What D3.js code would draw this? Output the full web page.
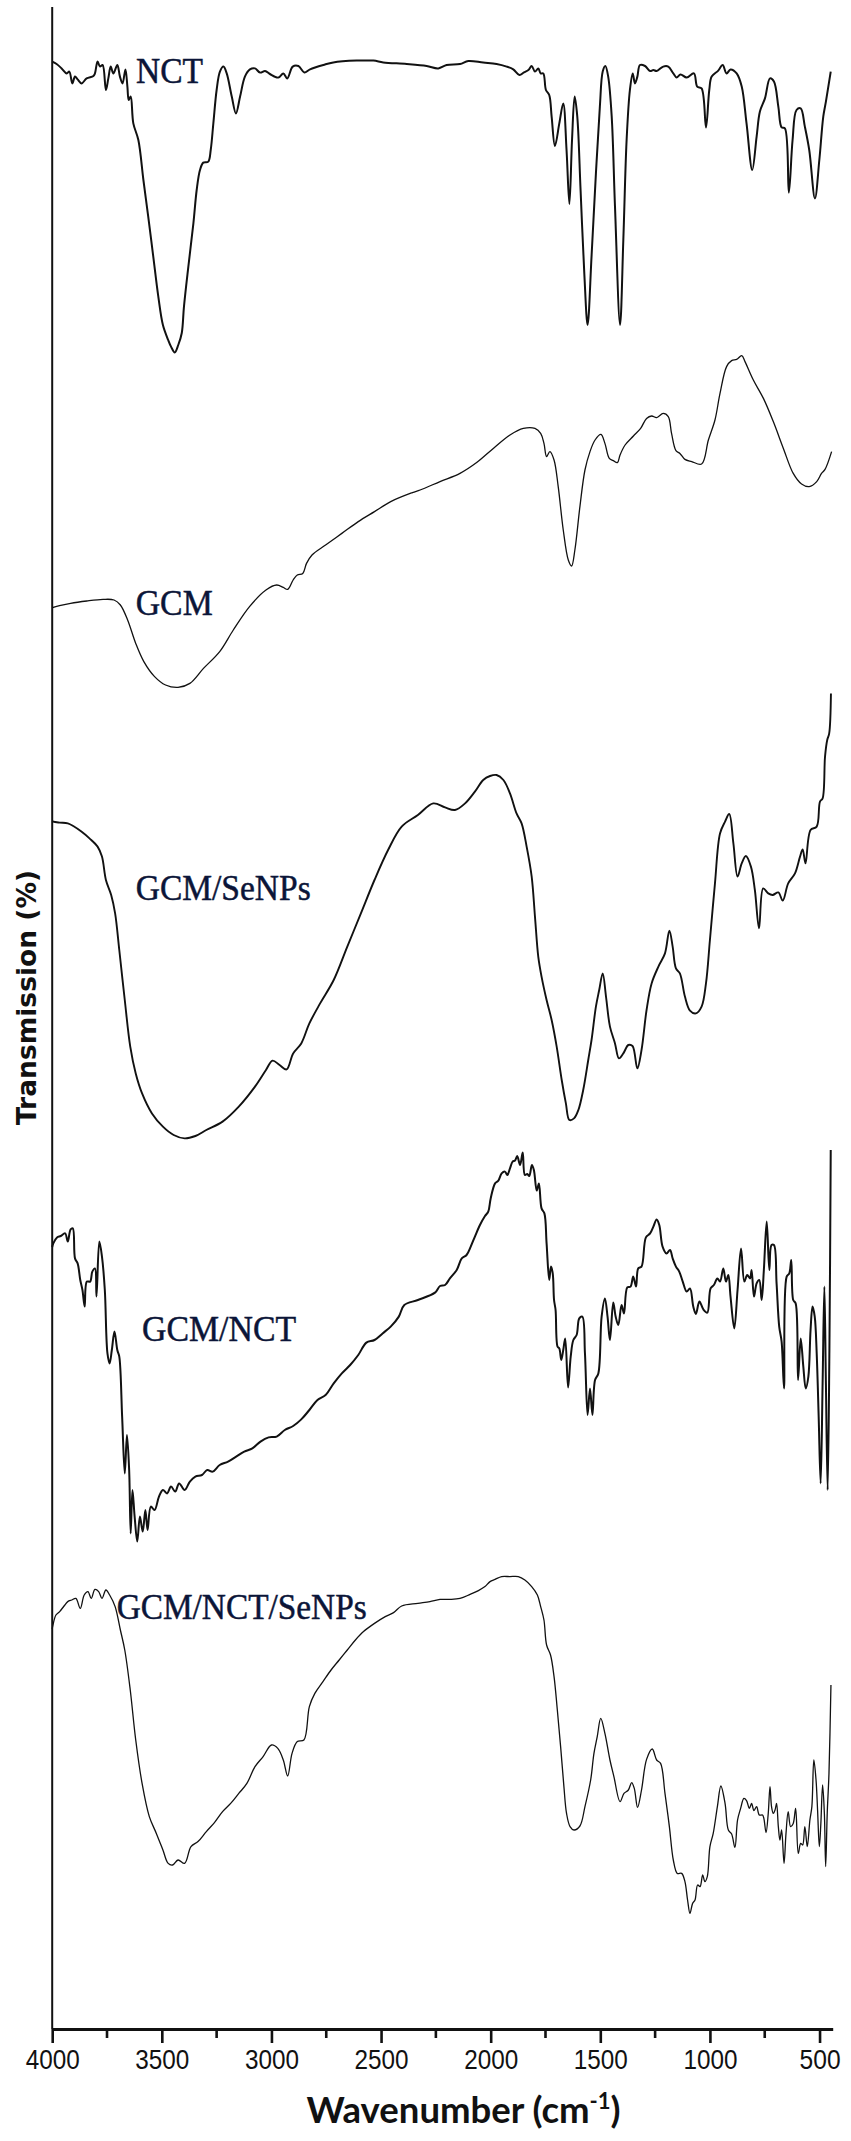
<!DOCTYPE html>
<html><head><meta charset="utf-8">
<script src="https://cdn.jsdelivr.net/npm/d3@7"></script>
<style>body{margin:0;background:#fff}svg{display:block}</style>
</head><body>
<svg id="chart" width="851" height="2141"></svg>
<script>
// ---------- data ----------
const tickLabels = [4000, 3500, 3000, 2500, 2000, 1500, 1000, 500];
const minorTicks = [3750, 3250, 2750, 2250, 1750, 1250, 750];
const seriesNames = ["NCT", "GCM", "GCM/SeNPs", "GCM/NCT", "GCM/NCT/SeNPs"];
// label anchors in data units [wavenumber, offset transmission]
const labelAnchors = [[3618, 973], [3619, 707], [3619, 564.5], [3590, 344], [3706, 205]];

// [wavenumber (cm-1), stacked transmission (a.u.)]
const NCT = [[4000,983.7],[3980,982.5],[3957,980.3],[3934,977.8],[3922,978.7],[3908,972.8],[3896,976.2],[3884,974.8],[3866,972.8],[3843,975.3],[3812,976.5],[3805,977.8],[3793,983.7],[3782,981.2],[3770,982],[3755,969.5],[3744,975.3],[3733,981.2],[3721,977.8],[3703,982],[3691,976.2],[3679,972.8],[3666,979.8],[3657,971.2],[3651,964.5],[3642,966.2],[3630,952.8],[3607,944.5],[3584,924.5],[3562,906.2],[3539,886.2],[3516,866.2],[3495,852],[3471,844.5],[3458,841.2],[3441,838.3],[3425,842],[3409,848],[3399,861.2],[3379,881.2],[3356,902.8],[3341,919.5],[3326,929.5],[3311,933.2],[3288,933.7],[3277,939.5],[3265,952.8],[3250,969.5],[3235,978.7],[3219,981.2],[3204,977.8],[3181,966.2],[3162,957.8],[3143,966.2],[3121,976.2],[3098,979.8],[3075,980.3],[3052,978.2],[3029,979],[3007,977.5],[2969,975.7],[2946,977.8],[2928,975.3],[2903,981.2],[2877,981.5],[2850,978.3],[2824,979.8],[2763,982],[2718,983.3],[2611,984.2],[2535,984.2],[2490,983.3],[2383,982.5],[2292,981.5],[2239,980.3],[2201,982],[2140,982.5],[2102,984],[2034,983.2],[1973,982.5],[1927,981.2],[1897,979.8],[1869,977],[1848,978.3],[1828,979.5],[1813,981.5],[1798,978.7],[1783,980.3],[1772,977.8],[1760,977.8],[1748,969.5],[1733,967],[1722,956.2],[1707,941.5],[1687,952.8],[1669,962.8],[1654,939.5],[1641,912.5],[1629,944.5],[1617,966.2],[1605,956.2],[1590,919.5],[1573,877.8],[1558,852],[1540,886.2],[1520,927.8],[1502,961.2],[1489,978.7],[1477,981.5],[1464,976.2],[1448,956.2],[1433,911.2],[1410,852],[1395,894.5],[1380,944.5],[1365,969.5],[1352,977.8],[1342,972.8],[1331,976.2],[1319,982],[1296,981.5],[1273,979],[1258,979.5],[1243,979],[1213,981.2],[1190,981.2],[1167,977.8],[1152,975.8],[1134,977.3],[1106,975.7],[1073,977.8],[1058,971.2],[1038,970.3],[1018,950.8],[1003,969.5],[992,976.2],[962,979.2],[942,982],[924,977.8],[906,979.8],[878,977.8],[855,971.2],[833,952.8],[807,929.5],[787,946.2],[772,958.7],[749,965.3],[726,975.3],[708,973.7],[688,961.2],[673,950.8],[658,950.3],[640,918.2],[623,944.5],[605,959.5],[586,960.3],[567,951.2],[547,939.5],[521,915.3],[501,934.5],[483,956.2],[471,963.7],[449,978.7]];

const GCM = [[4000,710.5],[3995,710.8],[3916,712.8],[3842,714],[3768,714.8],[3718,714.5],[3689,712],[3656,704.5],[3619,692.8],[3582,683.7],[3533,676.2],[3483,672],[3426,670.8],[3372,672.8],[3310,680.3],[3236,688.7],[3174,699.5],[3100,711.2],[3025,719.5],[2976,722],[2946,720.8],[2926,719.8],[2901,724.5],[2882,727],[2857,727.8],[2840,732.8],[2815,737],[2753,742],[2679,747.8],[2604,753.7],[2530,758.7],[2456,763.7],[2357,768.2],[2322,769.5],[2231,773.7],[2140,777.8],[2064,783.2],[1988,790.3],[1912,797],[1851,800.3],[1798,800.3],[1772,797.8],[1757,792.8],[1745,786.2],[1730,788.7],[1711,784.5],[1692,771.2],[1669,749.5],[1646,734.5],[1631,731.5],[1616,739.5],[1593,761.2],[1570,779.5],[1547,788.7],[1524,794.5],[1497,797.3],[1479,792.8],[1459,785.3],[1441,784.2],[1422,783.2],[1410,787],[1387,792],[1349,796.5],[1316,800.3],[1289,805.3],[1266,806.5],[1243,805.7],[1213,807.8],[1190,806.2],[1175,797.8],[1155,789.2],[1137,787.8],[1114,784.8],[1083,783.7],[1038,782.5],[1007,794.5],[977,804.5],[954,817.8],[924,831.2],[901,834.2],[878,834.8],[855,836.7],[840,833.7],[802,824.5],[756,815.3],[711,803.7],[665,790.3],[620,777.8],[582,772.5],[547,771.2],[513,773.7],[491,777.8],[475,779.8],[445,788.7]];

const GCM_SeNPs = [[4000,604],[3995,603.7],[3966,603.2],[3929,602.8],[3904,601.5],[3867,598.7],[3830,595.3],[3793,591.2],[3773,586.2],[3755,574.5],[3731,567],[3713,557.8],[3694,539.5],[3669,514.5],[3644,491.2],[3619,477.8],[3590,467.8],[3545,457.8],[3495,451.2],[3446,447],[3396,445.3],[3347,446.5],[3297,449.5],[3223,453.7],[3149,461.2],[3075,471.2],[3025,479.5],[2995,484.2],[2963,482],[2931,479.8],[2901,487.8],[2864,492.8],[2827,502.8],[2778,512.8],[2716,524.5],[2654,541.2],[2592,557.8],[2530,574.5],[2468,589.5],[2406,601.2],[2332,607],[2262,612.8],[2208,610.8],[2163,609.5],[2117,612.8],[2072,618.7],[2034,624.5],[2003,626.5],[1973,627],[1942,624.5],[1912,617.8],[1882,607.8],[1859,602.8],[1836,591.2],[1813,576.2],[1798,556.2],[1783,536.2],[1768,526.2],[1745,514.5],[1722,504.5],[1699,491.2],[1676,474.5],[1657,462.8],[1641,454.5],[1620,455.3],[1600,459.5],[1578,469.5],[1555,484.5],[1540,494.5],[1520,511.2],[1505,519.5],[1489,527.8],[1474,516.2],[1456,501.2],[1433,492.8],[1415,485.3],[1395,487.8],[1372,492],[1353,491.5],[1331,480.3],[1312,489.5],[1289,509.5],[1266,522.8],[1235,531.2],[1205,537.8],[1185,549.2],[1170,541.2],[1155,530.3],[1137,527.8],[1114,516.2],[1091,509.2],[1064,507.8],[1038,511.2],[1018,522.8],[1000,544.5],[977,572.8],[954,597.8],[931,603.7],[912,607.5],[893,592.8],[874,576.2],[855,582.8],[836,586.5],[813,581.2],[795,569.5],[776,550.3],[757,570.3],[734,567.8],[714,567],[688,568.3],[668,564.2],[643,572.8],[612,577.8],[589,586.2],[577,589.8],[564,582.8],[541,599.5],[513,601.2],[498,613.7],[486,615.3],[475,636.2],[465,644.5],[456,647.8],[448,667.8]];

const GCM_NCT = [[4000,391],[3995,392.8],[3978,395.8],[3961,396.5],[3941,397.8],[3929,393.7],[3916,399.8],[3906,400.3],[3896,385.3],[3884,382.8],[3872,374.5],[3862,369.5],[3852,361.2],[3842,373.7],[3827,373.7],[3817,378.7],[3805,380.3],[3798,366.2],[3785,393.7],[3773,386.2],[3760,369.5],[3748,337.8],[3738,332.8],[3728,339.5],[3716,348.7],[3703,339.5],[3694,336.2],[3681,306.2],[3669,277.8],[3659,297],[3649,279.5],[3642,247.8],[3634,269.5],[3624,256.2],[3612,243.7],[3600,256.2],[3587,248.7],[3575,259.5],[3565,249.5],[3550,261.2],[3533,259.5],[3513,266.2],[3495,269.5],[3476,267.8],[3458,271.2],[3439,268.7],[3421,272.8],[3396,269.5],[3372,273.7],[3347,276.2],[3317,277],[3293,279.5],[3268,278.7],[3236,282],[3198,283.7],[3161,286.2],[3124,288.7],[3087,290.3],[3050,293.7],[3013,295.8],[2976,296.2],[2939,299.5],[2901,301.5],[2864,304.8],[2827,309.5],[2790,314.5],[2753,317],[2716,322.8],[2679,327.8],[2641,332],[2604,337],[2567,343.2],[2530,344.5],[2493,347.8],[2456,351.2],[2419,356.2],[2394,362],[2332,364.5],[2254,368.2],[2231,371.5],[2208,372],[2186,375.3],[2155,379.5],[2132,385.3],[2110,387],[2091,391.2],[2072,396.2],[2049,402],[2026,406.5],[2011,408.7],[2000,415.3],[1980,422.8],[1965,424.2],[1950,427.8],[1935,428.7],[1924,427],[1912,430.3],[1900,433.7],[1889,434.2],[1879,436.5],[1866,432],[1854,438.2],[1844,427],[1833,427.5],[1824,426.5],[1812,432],[1803,429.5],[1790,419.2],[1780,422.8],[1768,410.3],[1755,407.8],[1745,392.8],[1733,374.5],[1725,381.2],[1717,377.8],[1711,364.5],[1704,359.5],[1695,341.2],[1687,340.3],[1678,334.5],[1669,339.5],[1660,345.3],[1647,320.8],[1635,336.2],[1623,344.5],[1608,347],[1596,355.3],[1582,356.2],[1570,337.8],[1558,307],[1547,320.3],[1536,307],[1524,324.5],[1509,327.8],[1494,356.2],[1479,365.3],[1467,356.2],[1456,344.5],[1441,363.2],[1430,356.2],[1418,352],[1403,362],[1392,357.8],[1377,370.8],[1362,371.2],[1350,376.2],[1337,371.2],[1327,380.3],[1312,381.2],[1292,395.8],[1273,397.8],[1258,401.2],[1243,404.8],[1231,402],[1216,391.2],[1198,387.8],[1182,389.5],[1170,385.3],[1155,381.2],[1140,378.7],[1124,373.7],[1106,368.7],[1091,370.3],[1076,361.2],[1064,357.5],[1048,363.7],[1030,359.8],[1012,358.2],[997,370.3],[982,372],[966,375.3],[954,373.7],[939,380.3],[927,373.7],[916,377],[906,366.2],[889,350.3],[874,369.5],[858,390.3],[843,373.7],[830,377],[817,375.3],[810,379.5],[799,366.2],[787,372.8],[775,374.5],[764,364.5],[754,379.5],[741,403.7],[729,379.5],[719,392],[708,392],[696,372.8],[684,351.2],[673,343.7],[662,320.3],[650,376.2],[638,377.8],[629,384.5],[620,364.5],[609,362.8],[598,324.5],[586,345.3],[574,331.2],[563,320.3],[551,326.2],[541,349.5],[532,361.2],[522,356.2],[513,337.8],[504,306.2],[495,272.8],[486,322.8],[478,371.2],[471,322.8],[463,269.5],[455,340],[449,439.5]];

const GCM_NCT_SeNPs = [[4000,200],[3998,201.2],[3983,207],[3966,208.7],[3946,211.5],[3929,213.7],[3911,214.5],[3892,215.3],[3872,210.3],[3854,217],[3837,218.7],[3822,215.3],[3805,219.8],[3788,218.7],[3773,215.3],[3755,219.5],[3738,217],[3713,211.2],[3689,199.5],[3669,189.5],[3644,169.5],[3619,144.5],[3590,122.8],[3557,106.2],[3525,97.8],[3495,89.5],[3471,82.8],[3451,82],[3426,84.5],[3396,82.8],[3367,91.2],[3335,93.7],[3297,98.7],[3260,103.2],[3223,108.7],[3186,112.8],[3149,117.8],[3112,122.8],[3075,131.2],[3038,136.2],[3000,142],[2971,140.3],[2946,134.5],[2926,126.5],[2906,137.8],[2882,143.7],[2852,144.5],[2827,161.2],[2802,167.8],[2765,173.7],[2728,179.5],[2691,184.5],[2654,189.5],[2617,194.5],[2580,198.7],[2530,202.8],[2481,206.2],[2443,208.2],[2406,211.5],[2332,212.8],[2277,213.7],[2231,214.8],[2186,214.8],[2140,215.3],[2094,217.3],[2056,219.2],[2026,221.2],[2003,223.7],[1980,224.8],[1950,226.2],[1912,226.2],[1874,226.2],[1844,224.5],[1813,221.2],[1787,217],[1772,211.2],[1757,204.5],[1745,192],[1727,187],[1711,176.2],[1696,159.5],[1681,141.2],[1666,121.2],[1654,107.8],[1638,101.2],[1620,99.5],[1593,101.5],[1570,111.2],[1544,124.5],[1529,137.8],[1514,146.2],[1498,155.3],[1479,147.8],[1456,134.5],[1438,126.2],[1410,113.7],[1392,117.8],[1372,119.5],[1357,123.2],[1345,120.3],[1330,110.8],[1312,119.5],[1289,134.8],[1263,140],[1243,134.5],[1225,132.8],[1205,117.8],[1185,101.2],[1167,84.5],[1149,77.8],[1129,77.8],[1114,73.7],[1102,64.5],[1091,57.8],[1079,62.8],[1068,64.5],[1056,72],[1045,71.2],[1033,77],[1023,73.7],[1012,76.2],[1000,91.2],[985,97.8],[966,111.2],[950,121.5],[931,112.8],[916,99.5],[901,97.5],[886,90.8],[874,104.5],[860,110.3],[845,115.3],[833,114.2],[820,110.3],[810,112.8],[799,109.2],[787,111.2],[775,107],[760,107],[754,105.3],[744,98.2],[734,107.8],[726,121.2],[719,111.2],[711,107.8],[703,109.5],[696,112.8],[688,101.2],[681,94.5],[673,99.5],[662,82.8],[653,97.8],[643,108.7],[632,101.2],[620,102.8],[609,110.3],[597,87.8],[586,92.8],[577,92],[567,101.2],[556,91.2],[544,104.5],[535,111.2],[526,134.5],[516,124.5],[509,109.5],[501,91.2],[494,102.8],[486,122],[478,107.8],[472,81.2],[465,107.8],[457,127.8],[448,172]];

// ---------- drawing ----------
const seriesData = [NCT, GCM, GCM_SeNPs, GCM_NCT, GCM_NCT_SeNPs];
const strokeW = [2, 1.3, 1.9, 2, 1.3];

const svg = d3.select("#chart");
const W = 851, H = 2141;
const m = {left: 52.2, right: 18.3, top: 7, bottom: 112};

const x = d3.scaleLinear().domain([4000, 440]).range([m.left, W - m.right]);
const y = d3.scaleLinear().domain([0, 1011]).range([H - m.bottom, m.top]);

const line = d3.line()
  .x(d => x(d[0])).y(d => y(d[1]))
  .curve(d3.curveCatmullRom.alpha(0.5));

svg.append("g").selectAll("path").data(seriesData).join("path")
  .attr("d", line)
  .attr("fill", "none")
  .attr("stroke", "#111")
  .attr("stroke-width", (d, i) => strokeW[i])
  .attr("stroke-linejoin", "round");

// curve labels
svg.append("g").selectAll("text").data(seriesNames).join("text")
  .attr("x", (d, i) => x(labelAnchors[i][0]))
  .attr("y", (d, i) => y(labelAnchors[i][1]))
  .attr("font-family", "'Liberation Serif', 'Times New Roman', serif")
  .attr("font-size", 36)
  .attr("fill", "#0b1538")
  .attr("stroke", "#0b1538").attr("stroke-width", 0.5)
  .attr("textLength", (d, i) => [67, 77, 175, 154, 250][i])
  .attr("lengthAdjust", "spacingAndGlyphs")
  .text(d => d);

// y axis line
svg.append("line")
  .attr("x1", x(4000)).attr("x2", x(4000))
  .attr("y1", y(1011)).attr("y2", y(0))
  .attr("stroke", "#111").attr("stroke-width", 2);

// x axis
const gx = svg.append("g").attr("transform", `translate(0,${y(0)})`);
gx.call(d3.axisBottom(x).tickValues(tickLabels).tickSize(14).tickSizeOuter(0).tickPadding(6).tickFormat(d3.format("d")));
gx.select(".domain").attr("stroke", "#111").attr("stroke-width", 2.8);
gx.selectAll(".tick line").attr("stroke", "#111").attr("stroke-width", 2.6);
gx.selectAll(".tick text")
  .attr("font-family", "'Liberation Sans Narrow', 'Liberation Sans', Arial, sans-serif")
  .attr("font-size", 28).attr("fill", "#111")
  .attr("textLength", 54).attr("lengthAdjust", "spacingAndGlyphs");
gx.selectAll(".tick").filter(d => d === 500).select("text").attr("textLength", 41);

svg.append("g").attr("transform", `translate(0,${y(0)})`)
  .selectAll("line").data(minorTicks).join("line")
  .attr("x1", d => x(d)).attr("x2", d => x(d))
  .attr("y1", 0).attr("y2", 9)
  .attr("stroke", "#111").attr("stroke-width", 2.6);

// axis titles
const xt = svg.append("text")
  .attr("x", 463.5).attr("y", 2123)
  .attr("text-anchor", "middle")
  .attr("font-family", "Lato, 'Open Sans', sans-serif")
  .attr("font-weight", 700).attr("font-size", 36.5).attr("fill", "#111");
xt.append("tspan").text("Wavenumber (cm");
xt.append("tspan").attr("dy", -14).attr("font-size", 22).text("-1");
xt.append("tspan").attr("dy", 14).text(")");

svg.append("text")
  .attr("transform", "translate(36,997.5) rotate(-90)")
  .attr("text-anchor", "middle")
  .attr("font-family", "'DejaVu Sans', Verdana, sans-serif")
  .attr("font-weight", 700).attr("font-size", 26.5).attr("fill", "#111")
  .text("Transmission (%)");
</script>
</body></html>
